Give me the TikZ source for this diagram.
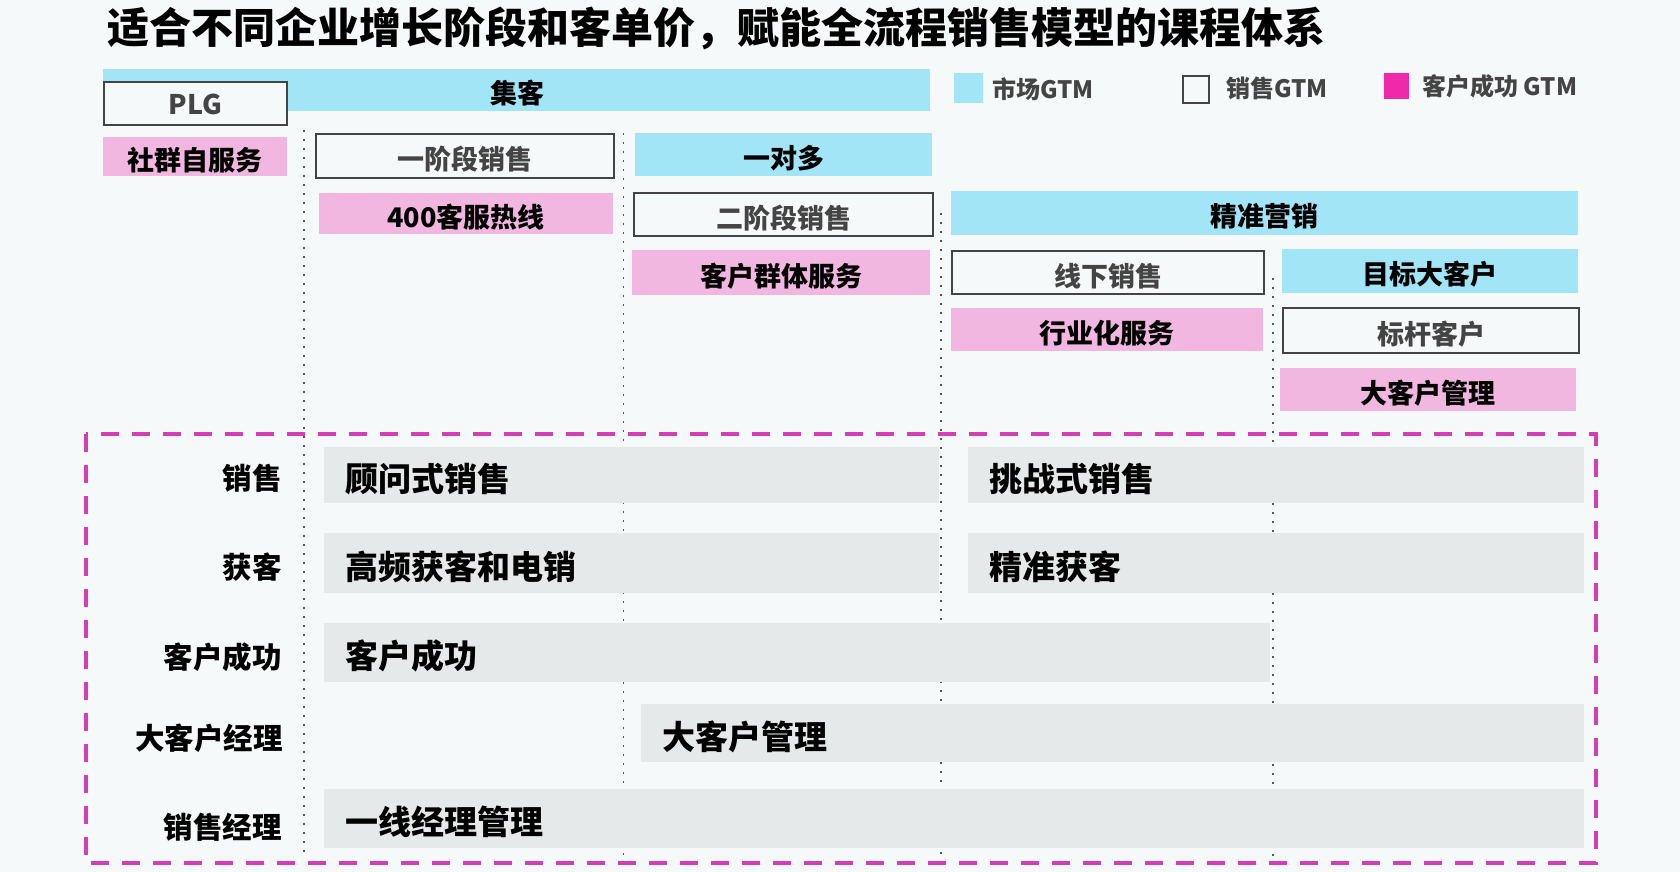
\documentclass[tikz,border=0pt]{standalone}
\usepackage{fontspec}
\setmainfont{Noto Sans CJK SC}[BoldFont={* Black}]
\definecolor{bgc}{HTML}{F5F9FA}
\definecolor{cyanc}{HTML}{A2E5F7}
\definecolor{pinkc}{HTML}{F2B7E0}
\definecolor{grayc}{HTML}{E6E9EA}
\definecolor{legmag}{HTML}{EE2AAA}
\definecolor{dashmag}{HTML}{D53DB6}
\definecolor{darkg}{HTML}{444444}
\definecolor{dotg}{HTML}{555555}
\tikzset{
  boxbase/.style={anchor=north west, inner sep=0pt, align=center, text height=27pt, text depth=0pt, font=\bfseries\fontsize{27pt}{27pt}\selectfont},
  mkt/.style={boxbase, fill=cyanc, text=black},
  sal/.style={boxbase, fill=bgc, draw=darkg, line width=2pt, text=darkg},
  csb/.style={boxbase, fill=pinkc, text=black},
  course/.style={anchor=north west, fill=grayc, inner xsep=21pt, inner ysep=0pt, align=left, text height=32.5pt, text depth=0pt, text=black, font=\bfseries\fontsize{33pt}{33pt}\selectfont},
  rowlabel/.style={anchor=east, inner sep=0pt, text=black, font=\bfseries\fontsize{29.5pt}{29.5pt}\selectfont},
  legtext/.style={anchor=west, inner sep=0pt, text=darkg, font=\bfseries\fontsize{24pt}{24pt}\selectfont},
  divider/.style={dotg, line width=1.6pt, dash pattern=on 1.6pt off 7.4pt},
}
\begin{document}
\begin{tikzpicture}[x=1pt, y=-1pt]
\useasboundingbox (0,0) rectangle (1680,872);
\fill[bgc] (0,0) rectangle (1680,872);

% title
\node[anchor=west, inner sep=0pt, text=black, font=\bfseries\fontsize{42pt}{42pt}\selectfont] (title) at (107,28) {适合不同企业增长阶段和客单价，赋能全流程销售模型的课程体系};

% dividers
\draw[divider] (304,130) -- (304,858);
\draw[divider] (623.5,133) -- (623.5,855);
\draw[divider] (941,213) -- (941,855);
\draw[divider] (1273,278) -- (1273,858);

% top stages
\node[mkt, minimum width=827pt, minimum height=42pt] (jike) at (103,69) {};
\node[anchor=center, inner sep=0pt, text=black, font=\bfseries\fontsize{27pt}{27pt}\selectfont] (jiketext) at (517,93.5) {集客};
\node[sal, minimum width=183pt, minimum height=43pt, text height=22pt] (plg) at (103,81) {PLG};
\node[csb, minimum width=184pt, minimum height=39pt] (shequn) at (103,137) {社群自服务};
\node[sal, minimum width=298pt, minimum height=44pt] (yijd) at (315,133) {一阶段销售};
\node[csb, minimum width=294pt, minimum height=41pt] (kefu) at (319,193) {400客服热线};
\node[mkt, minimum width=297pt, minimum height=43pt] (yiduiduo) at (635,133) {一对多};
\node[sal, minimum width=299pt, minimum height=43pt] (erjd) at (633,192) {二阶段销售};
\node[csb, minimum width=298pt, minimum height=45pt] (qunti) at (632,250) {客户群体服务};
\node[mkt, minimum width=627pt, minimum height=44pt] (jingzhun) at (951,191) {精准营销};
\node[sal, minimum width=312pt, minimum height=43pt] (xianxia) at (951,250) {线下销售};
\node[csb, minimum width=312pt, minimum height=43pt] (hangye) at (951,308) {行业化服务};
\node[mkt, minimum width=296pt, minimum height=44pt] (mubiao) at (1282,249) {目标大客户};
\node[sal, minimum width=296pt, minimum height=45pt] (biaogan) at (1282,307) {标杆客户};
\node[csb, minimum width=296pt, minimum height=43pt] (dakehu) at (1280,368) {大客户管理};

% legend
\node[anchor=north west, fill=cyanc, minimum width=29pt, minimum height=30pt, inner sep=0pt] (legm) at (954,73) {};
\node[legtext] (legmt) at (992,89) {市场GTM};
\node[anchor=north west, fill=bgc, draw=darkg, line width=2pt, minimum width=26pt, minimum height=27pt, inner sep=0pt] (legs) at (1182,75) {};
\node[legtext] (legst) at (1226,88) {销售GTM};
\node[anchor=north west, fill=legmag, minimum width=25pt, minimum height=26pt, inner sep=0pt] (legc) at (1384,73) {};
\node[legtext] (legct) at (1422,86) {客户成功 GTM};

% dashed frame
\draw[dashmag, line width=4pt, dash pattern=on 18pt off 13pt] (86,434) rectangle (1595.5,863);

% course rows
\node[course, text width=573pt, minimum height=56pt] (guwen) at (324,447) {顾问式销售};
\node[course, text width=574pt, minimum height=56pt] (tiaozhan) at (968,447) {挑战式销售};
\node[course, text width=573pt, minimum height=60pt] (gaopin) at (324,533) {高频获客和电销};
\node[course, text width=574pt, minimum height=60pt] (jzhk) at (968,533) {精准获客};
\node[course, text width=904pt, minimum height=59pt] (kehucg) at (324,623) {客户成功};
\node[course, text width=901pt, minimum height=58pt] (dkhgl) at (641,704) {大客户管理};
\node[course, text width=1218pt, minimum height=59pt] (yixian) at (324,789) {一线经理管理};

% row labels
\node[rowlabel] (lxs) at (282,478) {销售};
\node[rowlabel] (lhk) at (282,567) {获客};
\node[rowlabel] (lcs) at (282,657) {客户成功};
\node[rowlabel] (ldk) at (283,738) {大客户经理};
\node[rowlabel] (ljl) at (282,827) {销售经理};
\end{tikzpicture}
\end{document}
